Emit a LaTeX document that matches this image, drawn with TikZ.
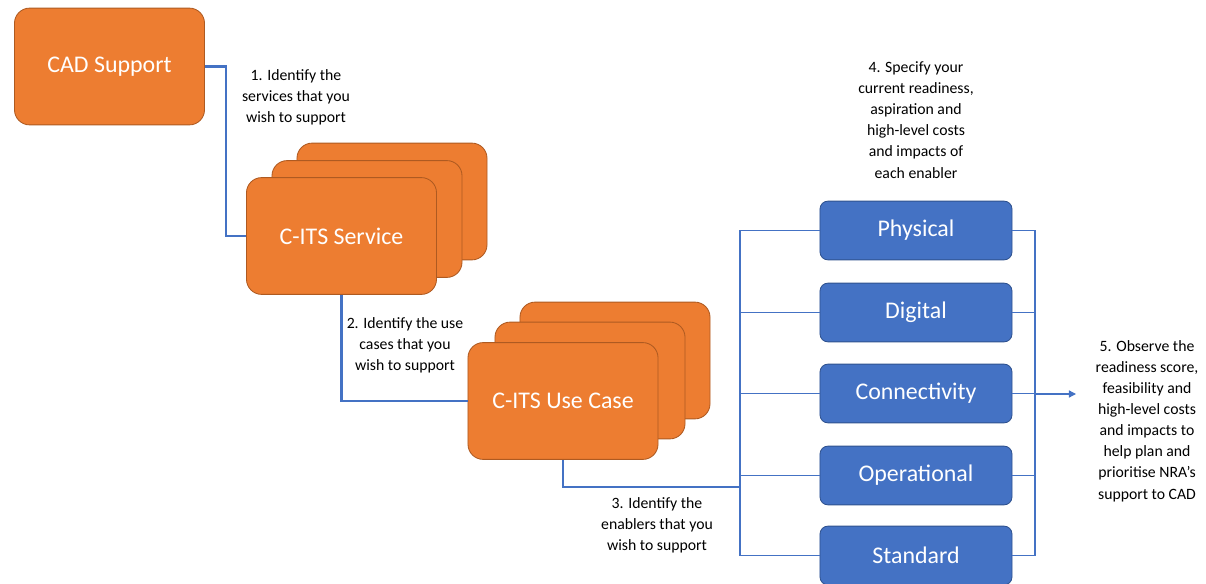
\documentclass[tikz,border=0pt]{standalone}
\usepackage{fontspec}
\setmainfont{Carlito}
\usetikzlibrary{arrows.meta}
\definecolor{cadorange}{HTML}{ED7D31}
\definecolor{cadedge}{HTML}{AE5A21}
\definecolor{enblue}{HTML}{4472C4}
\definecolor{enedge}{HTML}{2F528F}
\tikzset{
  stackbox/.style={rectangle, rounded corners=0.38cm, fill=cadorange, draw=cadedge, line width=0.6pt,
    minimum width=4.75cm, minimum height=2.92cm, text=white, font=\fontsize{17}{20}\selectfont},
  enabler/.style={rectangle, rounded corners=0.2cm, fill=enblue, draw=enedge, line width=0.6pt,
    minimum width=4.8cm, minimum height=1.47cm, text=white, font=\fontsize{17}{20}\selectfont},
  note/.style={align=center, font=\fontsize{11.2}{15}\selectfont, inner sep=0pt},
  thicklink/.style={draw=enblue, line width=2pt},
  thinlink/.style={draw=enblue, line width=0.9pt}
}
\begin{document}
\begin{tikzpicture}[x=0.025cm, y=-0.025cm]
			\useasboundingbox (0,0) rectangle (1206,584);
			% top level
			\node[stackbox] (cad) at (109.5,66.5) {CAD Support};
			% services
			\node[stackbox] (svcback) at (392,201.5) {};
			\node[stackbox] (svcmid) at (367,219) {};
			\node[stackbox] (svc) at (341.5,236) {C-ITS Service};
			% use cases
			\node[stackbox] (ucback) at (615,360.5) {};
			\node[stackbox] (ucmid) at (590,380.5) {};
			\node[stackbox] (uc) at (563,401) {C-ITS Use Case};
			% enablers
			\node[enabler] (physical) at (916,230.5) {Physical};
			\node[enabler] (digital) at (916,312.5) {Digital};
			\node[enabler] (connectivity) at (916,393.5) {Connectivity};
			\node[enabler] (operational) at (916,475.5) {Operational};
			\node[enabler] (standard) at (916,555.5) {Standard};
			% steps
			\node[note] (step1) at (296,97) {1. Identify the\\services that you\\wish to support};
			\node[note] (step2) at (405,345) {2. Identify the use\\cases that you\\wish to support};
			\node[note] (step3) at (657,525) {3. Identify the\\enablers that you\\wish to support};
			\node[note] (step4) at (916,120) {4. Specify your\\current readiness,\\aspiration and\\high-level costs\\and impacts of\\each enabler};
			\node[note] (step5) at (1147,421) {5. Observe the\\readiness score,\\feasibility and\\high-level costs\\and impacts to\\help plan and\\prioritise NRA's\\support to CAD};
			\coordinate (busL) at (740,487);
			\coordinate (busR) at (1035,394);
			\coordinate (outR) at (1076,394);
			% connectors
			\draw[thicklink] (cad.east) -- ++(21,0) |- (svc.west);
			\draw[thicklink] (svc.south) |- (uc.west);
			\draw[thinlink] (uc.south) |- (busL);
			\foreach \en in {physical,digital,connectivity,operational,standard} {
				\draw[thinlink] (busL) |- (\en.west);
				\draw[thinlink] (\en.east) -| (busR);
			}
			\draw[thinlink, -{Triangle[length=5pt,width=5pt]}] (busR) -- (outR);
		\end{tikzpicture}
\end{document}
